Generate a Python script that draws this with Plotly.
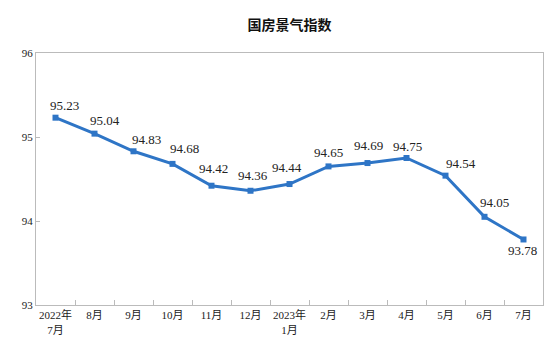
import plotly.graph_objects as go

categories = ["2022年<br>7月", "8月", "9月", "10月", "11月", "12月", "2023年<br>1月",
              "2月", "3月", "4月", "5月", "6月", "7月"]
values = [95.23, 95.04, 94.83, 94.68, 94.42, 94.36, 94.44, 94.65, 94.69, 94.75, 94.54, 94.05, 93.78]
y_ticks = [93, 94, 95, 96]

# label placement offsets (pixels) relative to each point
label_dx = [9, 10, 13, 12, 2, 2, -3, 0, 1, 1, 15, 10, -1]
label_dy = [12, 13, 12, 15, 17, 15, 17, 14, 18, 12, 12, 14, -11]

serif = "Liberation Serif, Noto Sans CJK SC, serif"
xs = list(range(len(categories)))

fig = go.Figure()
fig.add_trace(go.Scatter(
    x=xs, y=values,
    mode="lines+markers",
    line=dict(color="#2E75C6", width=3),
    marker=dict(symbol="square", size=6, color="#2E75C6"),
    hoverinfo="skip",
))

for xi, v, dx, dy in zip(xs, values, label_dx, label_dy):
    fig.add_annotation(x=xi, y=v, text=f"{v:.2f}", showarrow=False,
                       xanchor="center", yanchor="middle", xshift=dx, yshift=dy,
                       font=dict(family=serif, size=13, color="#222222"))

# page body has an 8px default margin; figure sized to fill the rest of the window
fig.update_layout(
    width=548, height=352,
    margin=dict(l=28, r=13, t=45, b=55, autoexpand=False),
    paper_bgcolor="white", plot_bgcolor="white",
    showlegend=False,
    title=dict(text="国房景气指数", x=0.5, xanchor="center", xref="paper",
               yref="container", y=1 - 17 / 352, yanchor="middle",
               font=dict(family="Noto Sans CJK SC, sans-serif", size=14, color="#111111",
                         weight="bold")),
)
fig.update_xaxes(
    automargin=False,
    range=[-0.5, len(categories) - 0.5],
    tickvals=xs,
    ticktext=categories,
    showgrid=False, zeroline=False,
    showline=True, linecolor="#BBBBBB", linewidth=1, mirror=True,
    ticks="", tickfont=dict(family=serif, size=11, color="#222222"),
)
fig.update_xaxes(minor=dict(tickvals=[i + 0.5 for i in range(len(categories) - 1)],
                            ticks="inside", ticklen=5, tickcolor="#BBBBBB", showgrid=False))
fig.update_yaxes(
    automargin=False,
    range=[93, 96], tickvals=y_ticks,
    showgrid=False, zeroline=False,
    showline=True, linecolor="#BBBBBB", linewidth=1, mirror=True,
    ticks="inside", ticklen=4, tickcolor="#BBBBBB",
    tickfont=dict(family=serif, size=11, color="#222222"),
)

fig.write_html("out.html")
